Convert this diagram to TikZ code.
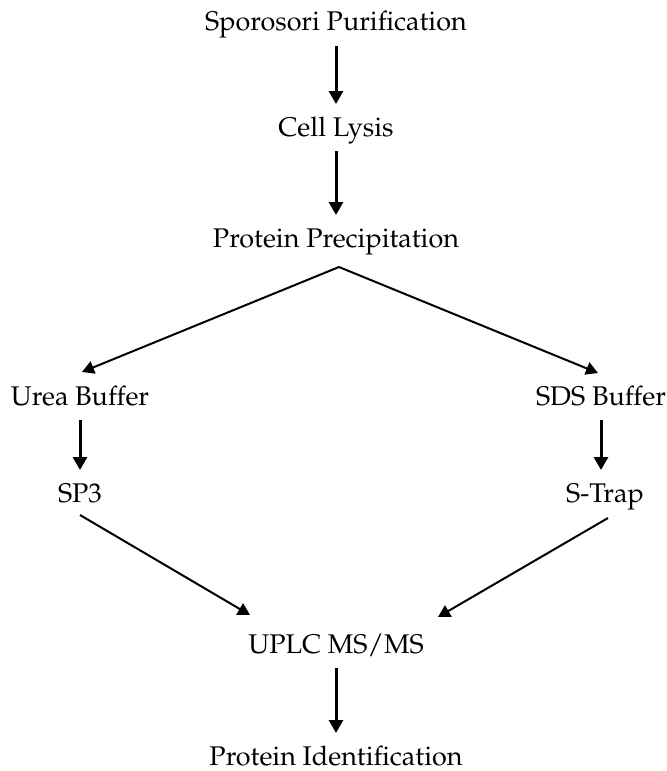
\documentclass[tikz,border=0pt]{standalone}
\usepackage[T1]{fontenc}
\usepackage{mathpazo}
\usepackage{tikz}
\usetikzlibrary{arrows.meta,calc}
\tikzset{
	stage/.style = {inner sep=0pt, anchor=base, font=\fontsize{13.5}{16}\selectfont},
	down arrow/.style = {-{Triangle[length=6.5pt,width=7pt]}, line width=1.5pt, shorten <=7.5pt, shorten >=16pt},
	slant arrow/.style = {-{Triangle[length=6pt,width=6.5pt]}, line width=1pt}
}

\begin{document}
\begin{tikzpicture}[x=0.5pt, y=-0.5pt]
    \useasboundingbox (0,0) rectangle (666,771);
    % Nodes
    \node (spor) at (336,31) [stage] {Sporosori Purification};
    \node (lysis) at (336,136) [stage] {Cell Lysis};
    \node (prec) at (336,247) [stage] {Protein Precipitation};

    \node (urea) at (80,405) [stage] {Urea Buffer};
    \node (sds) at (601,405) [stage] {SDS Buffer};
    \node (sp3) at (80,502) [stage] {SP3};
    \node (strap) at (605,502) [stage] {S-Trap};

    \node (uplc) at (336,653) [stage] {UPLC MS/MS};
    \node (ident) at (336,765) [stage] {Protein Identification};

    \coordinate (split) at ($(prec.base)+(3,20)$);
    \coordinate (mergeL) at ($(uplc.base)+(-86,-38)$);
    \coordinate (mergeR) at ($(uplc.base)+(102,-36)$);

    % Arrows
    \draw [down arrow] (spor.base) to (lysis.base);
    \draw [down arrow] (lysis.base) to (prec.base);
    \draw [slant arrow] (split) to ($(urea.base)+(2,-33)$);
    \draw [slant arrow] (split) to ($(sds.base)+(-3,-32)$);
    \draw [down arrow] (urea.base) to (urea.base |- sp3.base);
    \draw [down arrow] (sds.base) to (sds.base |- strap.base);
    \draw [slant arrow] ($(sp3.base)+(0,13)$) to (mergeL);
    \draw [slant arrow] ($(strap.base)+(3,16)$) to (mergeR);
    \draw [down arrow] (uplc.base) to (ident.base);
\end{tikzpicture}
\end{document}
